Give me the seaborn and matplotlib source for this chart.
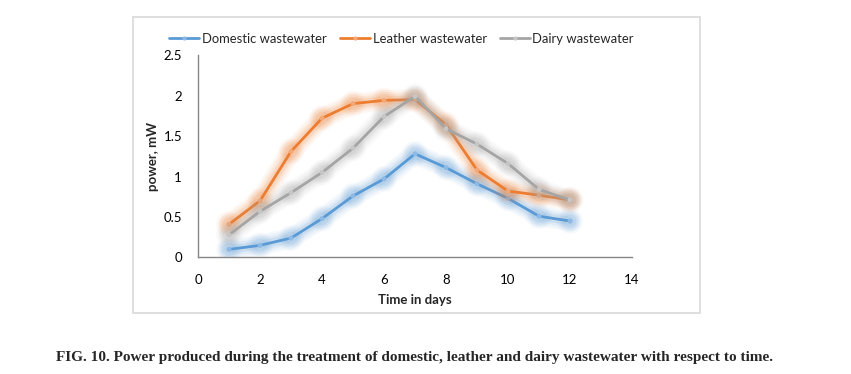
import numpy as np
import pandas as pd
import seaborn as sns
import matplotlib.pyplot as plt
import matplotlib.patheffects as pe
from matplotlib.patches import Rectangle

# Data
days = [1, 2, 3, 4, 5, 6, 7, 8, 9, 10, 11, 12]
domestic = [0.10, 0.15, 0.24, 0.48, 0.76, 0.97, 1.28, 1.11, 0.91, 0.73, 0.51, 0.45]
leather = [0.41, 0.70, 1.31, 1.72, 1.90, 1.94, 1.95, 1.64, 1.08, 0.82, 0.77, 0.71]
dairy = [0.28, 0.57, 0.80, 1.05, 1.35, 1.74, 1.99, 1.59, 1.40, 1.16, 0.84, 0.71]
series_names = ['Domestic wastewater', 'Leather wastewater', 'Dairy wastewater']
colors = ['#5B9BD5', '#ED7D31', '#A5A5A5']
marker_colors = ['#8DB9E6', '#F3A878', '#C6C6C6']

df = pd.DataFrame({
    'day': days * 3,
    'power': domestic + leather + dairy,
    'series': [series_names[0]] * 12 + [series_names[1]] * 12 + [series_names[2]] * 12,
})

sns.set_style('white')
plt.rcParams['font.family'] = ['Lato', 'DejaVu Sans']

fig = plt.figure(figsize=(8.51, 3.74), dpi=100)
ax = fig.add_axes([0.2327, 0.3115, 0.51, 0.5414])

# outer chart frame
fig.patches.append(Rectangle((0.156, 0.163), 0.6666, 0.7915, transform=fig.transFigure,
                             fill=False, edgecolor='#d9d9d9', linewidth=1.2))

sns.lineplot(data=df, x='day', y='power', hue='series', palette=colors,
             hue_order=series_names, ax=ax, linewidth=2.0, marker='o',
             markersize=3.5, markeredgewidth=0, legend=False)

for line, c, mc in zip(ax.get_lines(), colors, marker_colors):
    line.set_markerfacecolor(mc)
    line.set_path_effects([
        pe.Stroke(linewidth=15, foreground=c, alpha=0.05),
        pe.Stroke(linewidth=12, foreground=c, alpha=0.07),
        pe.Stroke(linewidth=9, foreground=c, alpha=0.09),
        pe.Stroke(linewidth=6, foreground=c, alpha=0.14),
        pe.Normal(),
    ])

ax.set_xlim(0, 14)
ax.set_ylim(0, 2.5)
ax.set_xticks([0, 2, 4, 6, 8, 10, 12, 14])
ax.set_yticks([0, 0.5, 1, 1.5, 2, 2.5])
ax.set_yticklabels(['0', '0.5', '1', '1.5', '2', '2.5'])
ax.tick_params(axis='both', length=0, labelsize=9.5, colors='#000000')
ax.tick_params(axis='y', pad=11.5)
ax.tick_params(axis='x', pad=12)

for side in ['top', 'right']:
    ax.spines[side].set_visible(False)
for side in ['left', 'bottom']:
    ax.spines[side].set_color('#868686')
    ax.spines[side].set_linewidth(1.0)

ax.set_xlabel('Time in days', fontsize=9.5, fontweight='bold', labelpad=6)
ax.set_ylabel('power, mW', fontsize=9.5, fontweight='bold', labelpad=3)

handles = [plt.Line2D([], [], color=c, linewidth=2.0, marker='o', markersize=3,
                      markerfacecolor=mc, markeredgewidth=0)
           for c, mc in zip(colors, marker_colors)]
fig.legend(handles, series_names, loc='center', bbox_to_anchor=(0.472, 0.896),
           ncol=3, frameon=False, fontsize=9.4, handlelength=2.3, handletextpad=0.2,
           columnspacing=1.0)

fig.text(0.487, 0.045, 'FIG. 10. Power produced during the treatment of domestic, leather and dairy wastewater with respect to time.',
         ha='center', va='center', fontsize=11, fontweight='bold', family='Liberation Serif')

fig.savefig('out.png', dpi=100)
